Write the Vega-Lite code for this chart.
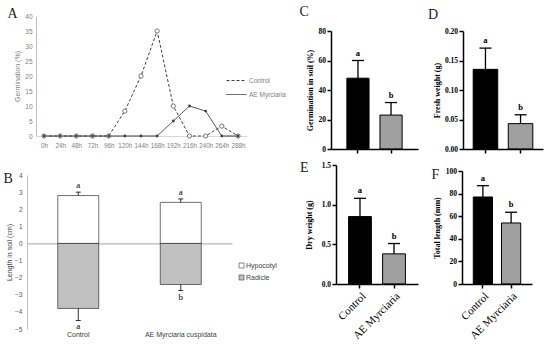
{
  "$schema": "https://vega.github.io/schema/vega-lite/v6.json",
  "width": 550,
  "height": 344,
  "autosize": {"type": "none"},
  "padding": 0,
  "config": {
    "view": {"stroke": null},
    "axis": {"labelOverlap": false, "grid": false, "minExtent": 0, "maxExtent": 200},
    "style": {
      "prismy": {"domainWidth": 1.5, "domainColor": "#000000", "tickColor": "#000000", "tickWidth": 1.5, "tickSize": 4, "zindex": 1, "labelFont": "Liberation Serif", "labelFontWeight": "bold", "labelFontSize": 7.5, "labelColor": "#000000", "labelPadding": 1.5, "titleFont": "Liberation Serif", "titleFontWeight": "bold", "titleFontSize": 8, "titleColor": "#000000", "labelOverlap": false},
      "bsty": {"ticks": false, "domainColor": "#bfbfbf", "labelFontSize": 6.5, "labelFont": "Liberation Sans", "labelColor": "#595959", "labelPadding": 5, "titleFont": "Liberation Sans", "titleFontSize": 7, "titleFontWeight": "normal", "titleColor": "#404040", "titlePadding": 2, "labelOverlap": false}
    }
  },
  "resolve": {
    "scale": {"x": "independent", "y": "independent", "fill": "independent", "strokeDash": "independent"},
    "axis": {"x": "independent", "y": "independent"},
    "legend": {"fill": "independent", "strokeDash": "independent"}
  },
  "layer": [
    {
      "data": {"values": [
        {"series": "Control", "hour": 0, "germination": 0},
        {"series": "Control", "hour": 24, "germination": 0},
        {"series": "Control", "hour": 48, "germination": 0},
        {"series": "Control", "hour": 72, "germination": 0},
        {"series": "Control", "hour": 96, "germination": 0},
        {"series": "Control", "hour": 120, "germination": 8.3},
        {"series": "Control", "hour": 144, "germination": 20},
        {"series": "Control", "hour": 168, "germination": 35},
        {"series": "Control", "hour": 192, "germination": 10},
        {"series": "Control", "hour": 216, "germination": 0},
        {"series": "Control", "hour": 240, "germination": 0},
        {"series": "Control", "hour": 264, "germination": 3.3},
        {"series": "Control", "hour": 288, "germination": 0},
        {"series": "AE Myrciaria", "hour": 0, "germination": 0},
        {"series": "AE Myrciaria", "hour": 24, "germination": 0},
        {"series": "AE Myrciaria", "hour": 48, "germination": 0},
        {"series": "AE Myrciaria", "hour": 72, "germination": 0},
        {"series": "AE Myrciaria", "hour": 96, "germination": 0},
        {"series": "AE Myrciaria", "hour": 120, "germination": 0},
        {"series": "AE Myrciaria", "hour": 144, "germination": 0},
        {"series": "AE Myrciaria", "hour": 168, "germination": 0},
        {"series": "AE Myrciaria", "hour": 192, "germination": 5},
        {"series": "AE Myrciaria", "hour": 216, "germination": 10},
        {"series": "AE Myrciaria", "hour": 240, "germination": 8.3},
        {"series": "AE Myrciaria", "hour": 264, "germination": 0},
        {"series": "AE Myrciaria", "hour": 288, "germination": 0}
      ]},
      "encoding": {
        "x": {"field": "hour", "type": "quantitative",
          "scale": {"domain": [-11.9, 301.4], "range": [36, 247], "nice": false, "zero": false},
          "axis": {"orient": "bottom", "offset": -208, "values": [0, 24, 48, 72, 96, 120, 144, 168, 192, 216, 240, 264, 288], "labelExpr": "datum.value + 'h'", "labelAngle": 0, "labelFontSize": 6.3, "labelFont": "Liberation Sans", "labelColor": "#7f7f7f", "ticks": false, "domainColor": "#d9d9d9", "labelPadding": 6,
            "title": "A", "titleX": 7, "titleY": -119, "titleAngle": 0, "titleAlign": "left", "titleBaseline": "alphabetic", "titleFont": "Liberation Serif", "titleFontSize": 14, "titleFontWeight": "normal", "titleColor": "#222222"}},
        "y": {"field": "germination", "type": "quantitative",
          "scale": {"domain": [0, 40], "range": [136, 16], "nice": false},
          "axis": {"orient": "left", "offset": -36, "values": [0, 5, 10, 15, 20, 25, 30, 35, 40], "ticks": false, "domainColor": "#bfbfbf", "labelFontSize": 6.5, "labelFont": "Liberation Sans", "labelColor": "#7f7f7f", "labelPadding": 4,
            "title": "Germination (%)", "titleFont": "Liberation Sans", "titleFontSize": 7, "titleFontWeight": "normal", "titleColor": "#7f7f7f", "titlePadding": 4}}
      },
      "layer": [
        {
          "mark": {"type": "line", "color": "#404040", "strokeWidth": 1},
          "encoding": {
            "strokeDash": {"field": "series", "type": "nominal",
              "scale": {"domain": ["Control", "AE Myrciaria"], "range": [[3, 2], [1, 0]]},
              "legend": {"orient": "none", "legendX": 226, "legendY": 70, "padding": 0, "title": null, "symbolType": "stroke", "symbolSize": 400, "symbolStrokeColor": "#404040", "symbolStrokeWidth": 1, "labelFontSize": 6.5, "labelFont": "Liberation Sans", "labelColor": "#7f7f7f", "labelOffset": 2, "rowPadding": -6}}
          }
        },
        {
          "transform": [{"filter": "datum.series === 'Control'"}],
          "mark": {"type": "point", "shape": "circle", "size": 18, "filled": true, "fill": "#ffffff", "stroke": "#595959", "strokeWidth": 0.8, "opacity": 1}
        },
        {
          "transform": [{"filter": "datum.series === 'AE Myrciaria'"}],
          "mark": {"type": "point", "shape": "circle", "size": 8, "filled": true, "color": "#404040", "opacity": 1}
        }
      ]
    },
    {
      "data": {"values": [
        {"group": "Control", "part": "Hypocotyl", "length": 2.8, "error": 3.0, "letter": "a"},
        {"group": "Control", "part": "Radicle", "length": -3.8, "error": -4.5, "letter": "a"},
        {"group": "AE Myrciaria cuspidata", "part": "Hypocotyl", "length": 2.4, "error": 2.6, "letter": "a"},
        {"group": "AE Myrciaria cuspidata", "part": "Radicle", "length": -2.4, "error": -2.75, "letter": "b"}
      ]},
      "encoding": {
        "x": {"field": "group", "type": "nominal", "sort": ["Control", "AE Myrciaria cuspidata"],
          "scale": {"range": [27, 232], "paddingInner": 0.6, "paddingOuter": 0.3},
          "axis": {"orient": "bottom", "offset": -100.6, "domainColor": "#a6a6a6", "domainWidth": 1, "ticks": false, "labelAngle": 0, "labelFontSize": 7, "labelFont": "Liberation Sans", "labelColor": "#404040", "labelPadding": 87, "labelBaseline": "top",
            "title": "B", "titleX": 3, "titleY": -61.4, "titleAngle": 0, "titleAlign": "left", "titleBaseline": "alphabetic", "titleFont": "Liberation Serif", "titleFontSize": 14, "titleFontWeight": "normal", "titleColor": "#222222"}}
      },
      "layer": [
        {
          "mark": {"type": "bar", "stroke": "#333333", "strokeWidth": 0.7},
          "encoding": {
            "y": {"field": "length", "type": "quantitative", "stack": null,
              "scale": {"domain": [-5, 4], "range": [329, 175], "nice": false},
              "axis": {"orient": "left", "offset": -27, "style": "bsty", "values": [-5, -4, -3, -2, -1, 0, 1, 2, 3, 4], "title": "Length in soil (cm)"}},
            "fill": {"field": "part", "type": "nominal", "scale": {"domain": ["Hypocotyl", "Radicle"], "range": ["#ffffff", "#c0c0c0"]},
              "legend": {"orient": "none", "legendX": 238, "legendY": 262, "padding": 0, "title": null, "symbolType": "square", "symbolSize": 25, "symbolStrokeColor": "#595959", "symbolStrokeWidth": 0.7, "labelFontSize": 7, "labelFont": "Liberation Sans", "labelColor": "#404040", "rowPadding": 3, "labelOffset": 1}}
          }
        },
        {
          "mark": {"type": "rule", "color": "#000000", "strokeWidth": 0.8},
          "encoding": {
            "y": {"field": "length", "type": "quantitative", "axis": {"orient": "left", "offset": -27, "style": "bsty", "values": [-5, -4, -3, -2, -1, 0, 1, 2, 3, 4], "title": "Length in soil (cm)"}},
            "y2": {"field": "error"}
          }
        },
        {
          "mark": {"type": "tick", "orient": "horizontal", "size": 5, "thickness": 0.8, "color": "#000000", "opacity": 1},
          "encoding": {"y": {"field": "error", "type": "quantitative", "axis": {"orient": "left", "offset": -27, "style": "bsty", "values": [-5, -4, -3, -2, -1, 0, 1, 2, 3, 4], "title": "Length in soil (cm)"}}}
        },
        {
          "transform": [{"filter": "datum.length > 0"}],
          "mark": {"type": "text", "baseline": "bottom", "dy": -2, "font": "Liberation Serif", "fontSize": 9, "color": "#000000"},
          "encoding": {
            "y": {"field": "error", "type": "quantitative", "axis": {"orient": "left", "offset": -27, "style": "bsty", "values": [-5, -4, -3, -2, -1, 0, 1, 2, 3, 4], "title": "Length in soil (cm)"}},
            "text": {"field": "letter"}
          }
        },
        {
          "transform": [{"filter": "datum.length < 0"}],
          "mark": {"type": "text", "baseline": "top", "dy": 2, "font": "Liberation Serif", "fontSize": 9, "color": "#000000"},
          "encoding": {
            "y": {"field": "error", "type": "quantitative", "axis": {"orient": "left", "offset": -27, "style": "bsty", "values": [-5, -4, -3, -2, -1, 0, 1, 2, 3, 4], "title": "Length in soil (cm)"}},
            "text": {"field": "letter"}
          }
        }
      ]
    },
    {
      "data": {"values": [
        {"group": "Control", "value": 48, "error": 60, "letter": "a"},
        {"group": "AE Myrciaria", "value": 23, "error": 31.5, "letter": "b"}
      ]},
      "encoding": {
        "x": {"field": "group", "type": "nominal", "sort": ["Control", "AE Myrciaria"],
          "scale": {"range": [331, 418], "paddingInner": 0.33, "paddingOuter": 0.48},
          "axis": {"orient": "bottom", "offset": -195, "style": "prismy", "labels": false,
            "title": "C", "titleX": 299, "titleY": -134, "titleAngle": 0, "titleAlign": "left", "titleBaseline": "alphabetic", "titleFont": "Liberation Serif", "titleFontSize": 14, "titleFontWeight": "normal", "titleColor": "#222222"}}
      },
      "layer": [
        {
          "mark": {"type": "bar", "stroke": "#000000", "strokeWidth": 1},
          "encoding": {
            "y": {"field": "value", "type": "quantitative",
              "scale": {"domain": [0, 80], "range": [149, 31], "nice": false},
              "axis": {"orient": "left", "offset": -331, "style": "prismy", "values": [0, 20, 40, 60, 80], "title": "Germination in soil (%)", "titlePadding": 4}},
            "fill": {"field": "group", "type": "nominal", "scale": {"domain": ["Control", "AE Myrciaria"], "range": ["#000000", "#a0a0a0"]}, "legend": null}
          }
        },
        {
          "mark": {"type": "rule", "strokeWidth": 1.3, "color": "#000000"},
          "encoding": {"y": {"field": "value", "type": "quantitative", "axis": {"orient": "left", "offset": -331, "style": "prismy", "values": [0, 20, 40, 60, 80], "title": "Germination in soil (%)", "titlePadding": 4}}, "y2": {"field": "error"}}
        },
        {
          "mark": {"type": "tick", "orient": "horizontal", "size": 12, "thickness": 1.3, "color": "#000000", "opacity": 1},
          "encoding": {"y": {"field": "error", "type": "quantitative", "axis": {"orient": "left", "offset": -331, "style": "prismy", "values": [0, 20, 40, 60, 80], "title": "Germination in soil (%)", "titlePadding": 4}}}
        },
        {
          "mark": {"type": "text", "baseline": "bottom", "dy": -3, "font": "Liberation Serif", "fontWeight": "bold", "fontSize": 8.5, "color": "#000000"},
          "encoding": {"y": {"field": "error", "type": "quantitative", "axis": {"orient": "left", "offset": -331, "style": "prismy", "values": [0, 20, 40, 60, 80], "title": "Germination in soil (%)", "titlePadding": 4}}, "text": {"field": "letter"}}
        }
      ]
    },
    {
      "data": {"values": [
        {"group": "Control", "value": 0.135, "error": 0.171, "letter": "a"},
        {"group": "AE Myrciaria", "value": 0.043, "error": 0.058, "letter": "b"}
      ]},
      "encoding": {
        "x": {"field": "group", "type": "nominal", "sort": ["Control", "AE Myrciaria"],
          "scale": {"range": [463, 543], "paddingInner": 0.3, "paddingOuter": 0.29},
          "axis": {"orient": "bottom", "offset": -195, "style": "prismy", "labels": false,
            "title": "D", "titleX": 427.5, "titleY": -131, "titleAngle": 0, "titleAlign": "left", "titleBaseline": "alphabetic", "titleFont": "Liberation Serif", "titleFontSize": 14, "titleFontWeight": "normal", "titleColor": "#222222"}}
      },
      "layer": [
        {
          "mark": {"type": "bar", "stroke": "#000000", "strokeWidth": 1},
          "encoding": {
            "y": {"field": "value", "type": "quantitative",
              "scale": {"domain": [0, 0.2], "range": [149, 31], "nice": false},
              "axis": {"orient": "left", "offset": -463, "style": "prismy", "values": [0, 0.05, 0.1, 0.15, 0.2], "format": ".2f", "title": "Fresh weight (g)", "titlePadding": 3}},
            "fill": {"field": "group", "type": "nominal", "scale": {"domain": ["Control", "AE Myrciaria"], "range": ["#000000", "#a0a0a0"]}, "legend": null}
          }
        },
        {
          "mark": {"type": "rule", "strokeWidth": 1.3, "color": "#000000"},
          "encoding": {"y": {"field": "value", "type": "quantitative", "axis": {"orient": "left", "offset": -463, "style": "prismy", "values": [0, 0.05, 0.1, 0.15, 0.2], "format": ".2f", "title": "Fresh weight (g)", "titlePadding": 3}}, "y2": {"field": "error"}}
        },
        {
          "mark": {"type": "tick", "orient": "horizontal", "size": 12, "thickness": 1.3, "color": "#000000", "opacity": 1},
          "encoding": {"y": {"field": "error", "type": "quantitative", "axis": {"orient": "left", "offset": -463, "style": "prismy", "values": [0, 0.05, 0.1, 0.15, 0.2], "format": ".2f", "title": "Fresh weight (g)", "titlePadding": 3}}}
        },
        {
          "mark": {"type": "text", "baseline": "bottom", "dy": -3, "font": "Liberation Serif", "fontWeight": "bold", "fontSize": 8.5, "color": "#000000"},
          "encoding": {"y": {"field": "error", "type": "quantitative", "axis": {"orient": "left", "offset": -463, "style": "prismy", "values": [0, 0.05, 0.1, 0.15, 0.2], "format": ".2f", "title": "Fresh weight (g)", "titlePadding": 3}}, "text": {"field": "letter"}}
        }
      ]
    },
    {
      "data": {"values": [
        {"group": "Control", "value": 0.85, "error": 1.08, "letter": "a"},
        {"group": "AE Myrciaria", "value": 0.38, "error": 0.51, "letter": "b"}
      ]},
      "encoding": {
        "x": {"field": "group", "type": "nominal", "sort": ["Control", "AE Myrciaria"],
          "scale": {"range": [336, 418], "paddingInner": 0.33, "paddingOuter": 0.37},
          "axis": {"orient": "bottom", "offset": -60, "style": "prismy", "labelAngle": -45, "labelFontWeight": "normal", "labelFontSize": 11, "labelPadding": 2,
            "title": "E", "titleX": 299.5, "titleY": -113, "titleAngle": 0, "titleAlign": "left", "titleBaseline": "alphabetic", "titleFont": "Liberation Serif", "titleFontSize": 14, "titleFontWeight": "normal", "titleColor": "#222222"}}
      },
      "layer": [
        {
          "mark": {"type": "bar", "stroke": "#000000", "strokeWidth": 1},
          "encoding": {
            "y": {"field": "value", "type": "quantitative",
              "scale": {"domain": [0, 1.5], "range": [284, 165], "nice": false},
              "axis": {"orient": "left", "offset": -336, "style": "prismy", "values": [0, 0.5, 1, 1.5], "format": ".1f", "title": "Dry weight (g)", "titlePadding": 8}},
            "fill": {"field": "group", "type": "nominal", "scale": {"domain": ["Control", "AE Myrciaria"], "range": ["#000000", "#a0a0a0"]}, "legend": null}
          }
        },
        {
          "mark": {"type": "rule", "strokeWidth": 1.3, "color": "#000000"},
          "encoding": {"y": {"field": "value", "type": "quantitative", "axis": {"orient": "left", "offset": -336, "style": "prismy", "values": [0, 0.5, 1, 1.5], "format": ".1f", "title": "Dry weight (g)", "titlePadding": 8}}, "y2": {"field": "error"}}
        },
        {
          "mark": {"type": "tick", "orient": "horizontal", "size": 12, "thickness": 1.3, "color": "#000000", "opacity": 1},
          "encoding": {"y": {"field": "error", "type": "quantitative", "axis": {"orient": "left", "offset": -336, "style": "prismy", "values": [0, 0.5, 1, 1.5], "format": ".1f", "title": "Dry weight (g)", "titlePadding": 8}}}
        },
        {
          "mark": {"type": "text", "baseline": "bottom", "dy": -3, "font": "Liberation Serif", "fontWeight": "bold", "fontSize": 8.5, "color": "#000000"},
          "encoding": {"y": {"field": "error", "type": "quantitative", "axis": {"orient": "left", "offset": -336, "style": "prismy", "values": [0, 0.5, 1, 1.5], "format": ".1f", "title": "Dry weight (g)", "titlePadding": 8}}, "text": {"field": "letter"}}
        }
      ]
    },
    {
      "data": {"values": [
        {"group": "Control", "value": 77, "error": 87, "letter": "a"},
        {"group": "AE Myrciaria", "value": 54, "error": 63.5, "letter": "b"}
      ]},
      "encoding": {
        "x": {"field": "group", "type": "nominal", "sort": ["Control", "AE Myrciaria"],
          "scale": {"range": [462, 532], "paddingInner": 0.32, "paddingOuter": 0.4},
          "axis": {"orient": "bottom", "offset": -60, "style": "prismy", "labelAngle": -45, "labelFontWeight": "normal", "labelFontSize": 11, "labelPadding": 2,
            "title": "F", "titleX": 431, "titleY": -106, "titleAngle": 0, "titleAlign": "left", "titleBaseline": "alphabetic", "titleFont": "Liberation Serif", "titleFontSize": 14, "titleFontWeight": "normal", "titleColor": "#222222"}}
      },
      "layer": [
        {
          "mark": {"type": "bar", "stroke": "#000000", "strokeWidth": 1},
          "encoding": {
            "y": {"field": "value", "type": "quantitative",
              "scale": {"domain": [0, 100], "range": [284, 171], "nice": false},
              "axis": {"orient": "left", "offset": -462, "style": "prismy", "values": [0, 20, 40, 60, 80, 100], "title": "Total length (mm)", "titlePadding": 4}},
            "fill": {"field": "group", "type": "nominal", "scale": {"domain": ["Control", "AE Myrciaria"], "range": ["#000000", "#a0a0a0"]}, "legend": null}
          }
        },
        {
          "mark": {"type": "rule", "strokeWidth": 1.3, "color": "#000000"},
          "encoding": {"y": {"field": "value", "type": "quantitative", "axis": {"orient": "left", "offset": -462, "style": "prismy", "values": [0, 20, 40, 60, 80, 100], "title": "Total length (mm)", "titlePadding": 4}}, "y2": {"field": "error"}}
        },
        {
          "mark": {"type": "tick", "orient": "horizontal", "size": 12, "thickness": 1.3, "color": "#000000", "opacity": 1},
          "encoding": {"y": {"field": "error", "type": "quantitative", "axis": {"orient": "left", "offset": -462, "style": "prismy", "values": [0, 20, 40, 60, 80, 100], "title": "Total length (mm)", "titlePadding": 4}}}
        },
        {
          "mark": {"type": "text", "baseline": "bottom", "dy": -3, "font": "Liberation Serif", "fontWeight": "bold", "fontSize": 8.5, "color": "#000000"},
          "encoding": {"y": {"field": "error", "type": "quantitative", "axis": {"orient": "left", "offset": -462, "style": "prismy", "values": [0, 20, 40, 60, 80, 100], "title": "Total length (mm)", "titlePadding": 4}}, "text": {"field": "letter"}}
        }
      ]
    }
  ]
}
